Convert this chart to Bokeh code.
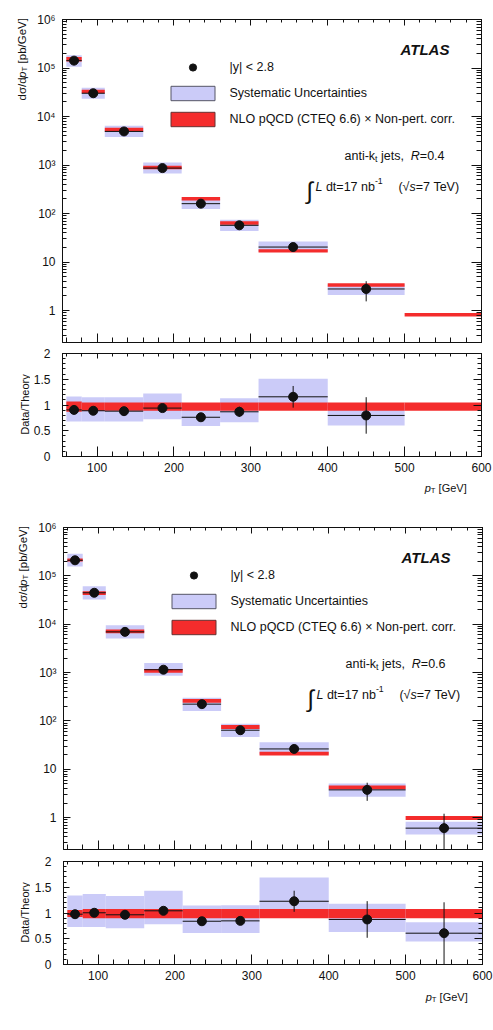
import math

from bokeh.embed import file_html
from bokeh.layouts import column, row
from bokeh.models import (CustomJSTickFormatter, FixedTicker, Label, Legend,
                          LegendItem, LinearAxis, LogAxis, Range1d)
from bokeh.plotting import figure
from bokeh.resources import INLINE

# ---------------------------------------------------------------- data
# jet pT bins [GeV]
bin_lo = [60, 80, 110, 160, 210, 260, 310, 400, 500]
bin_hi = [80, 110, 160, 210, 260, 310, 400, 500, 600]
bin_mid = [70, 95, 135, 185, 235, 285, 355, 450, 550]

# anti-kt R = 0.4 : NLO pQCD x non-pert. corr. [pb/GeV] and its band (relative)
theory_r04 = [1.57e5, 3.4e4, 5.6e3, 920, 210, 66, 17.6, 3.5, 0.85]
theory_lo_r04 = [0.87, 0.89, 0.89, 0.89, 0.89, 0.89, 0.89, 0.89, 0.89]
theory_hi_r04 = [1.07, 1.05, 1.05, 1.05, 1.05, 1.05, 1.05, 1.05, 1.05]
# measured cross section, statistical error [pb/GeV]
data_r04 = [1.42e5, 3.02e4, 4.93e3, 865, 160, 57.3, 20.4, 2.79]
stat_r04 = [1600, 340, 110, 28, 10, 6.6, 3.7, 1.24]
# systematic band edges, relative to theory
sys_lo_r04 = [0.68, 0.68, 0.68, 0.725, 0.59, 0.666, 0.93, 0.60]
sys_hi_r04 = [1.165, 1.15, 1.15, 1.223, 0.95, 1.13, 1.51, 1.00]

# anti-kt R = 0.6
theory_r06 = [2.15e5, 4.45e4, 7.2e3, 1.1e3, 265, 76, 21.5, 4.3, 1.0]
theory_lo_r06 = [0.92, 0.90, 0.90, 0.90, 0.90, 0.90, 0.90, 0.90, 0.90]
theory_hi_r06 = [1.06, 1.08, 1.08, 1.08, 1.08, 1.08, 1.08, 1.08, 1.08]
data_r06 = [2.1e5, 4.47e4, 6.95e3, 1147, 222.6, 64.4, 26.4, 3.76, 0.608]
stat_r06 = [1500, 450, 140, 33, 11, 5, 4.4, 1.53, 0.6]
sys_lo_r06 = [0.73, 0.73, 0.705, 0.78, 0.61, 0.61, 0.95, 0.63, 0.447]
sys_hi_r06 = [1.34, 1.37, 1.33, 1.43, 1.146, 1.15, 1.69, 1.18, 0.82]

x_major = [100, 200, 300, 400, 500, 600]
x_minor = list(range(60, 601, 20))
y_major = [1, 10, 100, 1e3, 1e4, 1e5, 1e6]
y_minor = [m * 10.0 ** e for e in range(-1, 6) for m in range(2, 10) if 0.22 <= m * 10.0 ** e <= 1e6]
r_major = [0, 0.5, 1, 1.5, 2]
r_minor = [k / 10 for k in range(0, 21)]

# ---------------------------------------------------------------- style
FONT = "Liberation Sans"
INK = "#111111"
BLUE = "#cbcbf8"
RED = "#f42c2c"
NB = "\u00a0"
SIDE = 30            # width of the strip that carries the vertical axis titles
PW = 493 - SIDE      # width of the plotting column
X0, X1 = 55, 600
Y0, Y1 = 0.22, 1e6

ADV = {' ': 278, NB: 278, '|': 260, '<': 584, '=': 584, '.': 278, ',': 278, '-': 333,
       '(': 333, ')': 333, '[': 278, ']': 278, '/': 278, '√': 549, 'σ': 570, '∫': 274,
       'a': 556, 'b': 556, 'c': 500, 'd': 556, 'e': 556, 'f': 278, 'g': 556, 'h': 556,
       'i': 222, 'j': 222, 'k': 500, 'l': 222, 'm': 833, 'n': 556, 'o': 556, 'p': 556,
       'q': 556, 'r': 333, 's': 500, 't': 278, 'u': 556, 'v': 500, 'w': 722, 'x': 500,
       'y': 500, 'z': 500, 'A': 667, 'C': 722, 'D': 722, 'E': 667, 'G': 778, 'L': 556,
       'N': 722, 'O': 778, 'P': 667, 'Q': 778, 'R': 722, 'S': 667, 'T': 611, 'V': 667}
ADV_BOLD = {'A': 722, 'T': 611, 'L': 611, 'S': 667}


def text_width(s, size, bold=False):
    table = ADV_BOLD if bold else {}
    return sum(table.get(c, ADV.get(c, 556)) for c in s) * size / 1000.0


def rich(p, x, y, pieces, dx, dy, size, align="left", rotate=False):
    """Place a run of text pieces (normal/italic/sub/sup) next to each other."""
    sizes = [size * (0.7 if k in ("sub", "sup") else 1.0) for _, k in pieces]
    widths = [text_width(t, s, bold=k.startswith("b")) for (t, k), s in zip(pieces, sizes)]
    pos = -sum(widths) if align == "right" else 0.0
    for (t, k), s, w in zip(pieces, sizes, widths):
        lift = {"sub": -0.25 * size, "sup": 0.42 * size}.get(k, 0.0)
        style = {"i": "italic", "b": "bold", "bi": "bold italic"}.get(k, "normal")
        if rotate:
            xo, yo, ang = dx - lift, dy + pos, math.pi / 2
        else:
            xo, yo, ang = dx + pos, dy + lift, 0.0
        p.add_layout(Label(x=x, y=y, x_offset=xo, y_offset=yo, angle=ang, text=t,
                           text_font=FONT, text_font_size=f"{s:.1f}px",
                           text_font_style=style, text_color=INK,
                           text_align="left", text_baseline="alphabetic"))
        pos += w


def ticks(ax, major, minor, t_major, t_minor, show=False, standoff=6, fmt=None):
    ax.ticker = FixedTicker(ticks=major, minor_ticks=minor)
    ax.major_tick_in, ax.major_tick_out = t_major, 0
    ax.minor_tick_in, ax.minor_tick_out = t_minor, 0
    ax.axis_line_color = INK
    ax.major_tick_line_color = INK
    ax.minor_tick_line_color = INK
    if show:
        ax.major_label_text_font = FONT
        ax.major_label_text_font_size = "12px"
        ax.major_label_text_color = INK
        ax.major_label_standoff = standoff
        if fmt is not None:
            ax.formatter = fmt
    else:
        # tick marks only: labels are not painted
        ax.major_label_text_font_size = "1px"
        ax.major_label_text_color = None
        ax.major_label_standoff = 0


log_fmt = CustomJSTickFormatter(code="""
const sup = {2: "\u00b2", 3: "\u00b3", 4: "\u2074", 5: "\u2075", 6: "\u2076"};
const e = Math.round(Math.log10(tick));
if (e <= 1) { return String(Math.round(tick)); }
return "10" + sup[e];
""")
ratio_fmt = CustomJSTickFormatter(code="return String(tick);")


def blank(width, height):
    """A borderless canvas whose data units are pixels, for titles outside the frames."""
    p = figure(width=width, height=height, x_range=Range1d(0, width),
               y_range=Range1d(0, height), output_backend="svg", toolbar_location=None,
               x_axis_location=None, y_axis_location=None, min_border=0)
    p.grid.visible = False
    p.outline_line_color = None
    return p


def main_panel(height, top, bottom, left, right, theory, th_lo, th_hi, data, stat, s_lo, s_hi,
               radius):
    p = figure(width=PW, height=height, x_range=Range1d(X0, X1), y_range=Range1d(Y0, Y1),
               y_axis_type="log", output_backend="svg", toolbar_location=None,
               min_border_top=top, min_border_bottom=bottom, min_border_left=left,
               min_border_right=right)
    p.grid.visible = False
    p.outline_line_color = INK
    n = len(data)

    p.quad(left=bin_lo[:n], right=bin_hi[:n],
           bottom=[t * v for t, v in zip(theory, s_lo)],
           top=[t * v for t, v in zip(theory, s_hi)],
           fill_color=BLUE, line_color=None)
    p.quad(left=bin_lo, right=bin_hi,
           bottom=[t * v for t, v in zip(theory, th_lo)],
           top=[t * v for t, v in zip(theory, th_hi)],
           fill_color=RED, line_color=None)
    p.segment(x0=bin_lo[:n], x1=bin_hi[:n], y0=data, y1=data, line_color=INK, line_width=1)
    p.segment(x0=bin_mid[:n], x1=bin_mid[:n],
              y0=[d - s for d, s in zip(data, stat)], y1=[d + s for d, s in zip(data, stat)],
              line_color=INK, line_width=1)
    p.scatter(bin_mid[:n], data, size=9, color=INK)

    ticks(p.xaxis[0], x_major, x_minor, 9, 5)
    ticks(p.yaxis[0], y_major, y_minor, 7, 4, show=True, standoff=7, fmt=log_fmt)
    up = LinearAxis()
    ticks(up, x_major, x_minor, 6, 3)
    p.add_layout(up, "above")
    rt = LogAxis()
    ticks(rt, y_major, y_minor, 10, 5)
    p.add_layout(rt, "right")

    # legend (drawn from style-only renderers placed below the visible range)
    d_dot = p.scatter([1], [1e-3], size=9, color=INK)
    d_sys = p.quad(left=[1], right=[2], top=[2e-3], bottom=[1e-3], fill_color=BLUE,
                   line_color="#555566")
    d_nlo = p.quad(left=[1], right=[2], top=[2e-3], bottom=[1e-3], fill_color=RED,
                   line_color="#663333")
    frame_h = height - top - bottom
    leg = Legend(items=[LegendItem(label="|y| < 2.8", renderers=[d_dot]),
                        LegendItem(label="Systematic Uncertainties", renderers=[d_sys]),
                        LegendItem(label="NLO pQCD (CTEQ 6.6) \u00d7 Non-pert. corr.", renderers=[d_nlo])],
                 location=(102.5, frame_h - 39 - 70), glyph_width=55, glyph_height=18,
                 label_height=18, spacing=8, padding=0, margin=0, label_standoff=10,
                 border_line_color=None, background_fill_alpha=0,
                 label_text_font=FONT, label_text_font_size="12.5px", label_text_color=INK)
    p.add_layout(leg)

    rich(p, X0, Y1, [("ATLAS", "bi")], 338, -30, 15)
    rich(p, X0, Y1, [("anti-k", "n"), ("t", "sub"), (NB + "jets," + NB + NB, "n"), ("R", "i"),
                     ("=" + radius, "n")], 282, -136, 12.5)
    rich(p, X0, Y1, [("\u222b", "n")], 244, -171, 24)
    rich(p, X0, Y1, [("L", "i"), (NB + "dt=17" + NB + "nb", "n"), ("-1", "sup")],
         253, -167, 12.5)
    rich(p, X0, Y1, [("(\u221a", "n"), ("s", "i"), ("=7" + NB + "TeV)", "n")], 398, -167, 12.5,
         align="right")
    return p


def ratio_panel(x_range, height, top, bottom, left, right, theory, th_lo, th_hi, data, stat,
                s_lo, s_hi):
    p = figure(width=PW, height=height, x_range=x_range, y_range=Range1d(0, 2),
               output_backend="svg", toolbar_location=None,
               min_border_top=top, min_border_bottom=bottom, min_border_left=left,
               min_border_right=right)
    p.grid.visible = False
    p.outline_line_color = INK
    n = len(data)
    ratio = [d / t for d, t in zip(data, theory)]
    rerr = [s / t for s, t in zip(stat, theory)]

    p.quad(left=bin_lo[:n], right=bin_hi[:n], bottom=s_lo, top=s_hi,
           fill_color=BLUE, line_color=None)
    p.quad(left=bin_lo, right=bin_hi, bottom=th_lo, top=th_hi, fill_color=RED, line_color=None)
    p.segment(x0=bin_lo[:n], x1=bin_hi[:n], y0=ratio, y1=ratio, line_color=INK, line_width=1)
    p.segment(x0=bin_mid[:n], x1=bin_mid[:n],
              y0=[r - e for r, e in zip(ratio, rerr)], y1=[r + e for r, e in zip(ratio, rerr)],
              line_color=INK, line_width=1)
    p.scatter(bin_mid[:n], ratio, size=9, color=INK)

    ticks(p.xaxis[0], x_major, x_minor, 10, 5, show=True, standoff=6)
    ticks(p.yaxis[0], r_major, r_minor, 6, 3, show=True, standoff=12, fmt=ratio_fmt)
    up = LinearAxis()
    ticks(up, x_major, x_minor, 5, 3)
    p.add_layout(up, "above")
    rt = LinearAxis()
    ticks(rt, r_major, r_minor, 8, 4)
    p.add_layout(rt, "right")
    return p


def side_titles(height, ylab_x, ylab_y, ratio_x, ratio_y):
    s = blank(SIDE, height)
    rich(s, ylab_x, ylab_y, [("d\u03c3/d", "n"), ("p", "i"), ("T", "sub"),
                             (NB + "[pb/GeV]", "n")], 0, 0, 11.5, rotate=True)
    s.add_layout(Label(x=ratio_x, y=ratio_y, angle=math.pi / 2, text="Data/Theory",
                       text_font=FONT, text_font_size="11px", text_color=INK,
                       text_align="center", text_baseline="alphabetic"))
    return s


def x_title(height, base_y):
    s = blank(PW, height)
    rich(s, 446.7, base_y, [("p", "i"), ("T", "sub"), (NB + "[GeV]", "n")], 0, 0, 11,
         align="right")
    return s


# R = 0.4 block (500 px tall)
m04 = main_panel(348, 19, 6, 31, 12, theory_r04, theory_lo_r04, theory_hi_r04, data_r04,
                 stat_r04, sys_lo_r04, sys_hi_r04, "0.4")
r04 = ratio_panel(m04.x_range, 130, 5, 22, 31, 12, theory_r04, theory_lo_r04, theory_hi_r04,
                  data_r04, stat_r04, sys_lo_r04, sys_hi_r04)
block04 = row(side_titles(500, 21, 400, 24, 96),
              column(m04, r04, x_title(22, 13), spacing=0), spacing=0)

# R = 0.6 block (530 px tall)
m06 = main_panel(355, 27, 6, 33, 11, theory_r06, theory_lo_r06, theory_hi_r06, data_r06,
                 stat_r06, sys_lo_r06, sys_hi_r06, "0.6")
r06 = ratio_panel(m06.x_range, 131, 6, 22, 33, 11, theory_r06, theory_lo_r06, theory_hi_r06,
                  data_r06, stat_r06, sys_lo_r06, sys_hi_r06)
block06 = row(side_titles(530, 22, 422, 24, 118),
              column(m06, r06, x_title(44, 34), spacing=0), spacing=0)

layout = column(block04, block06, spacing=0)
open("out.html", "w").write(file_html(layout, INLINE))
